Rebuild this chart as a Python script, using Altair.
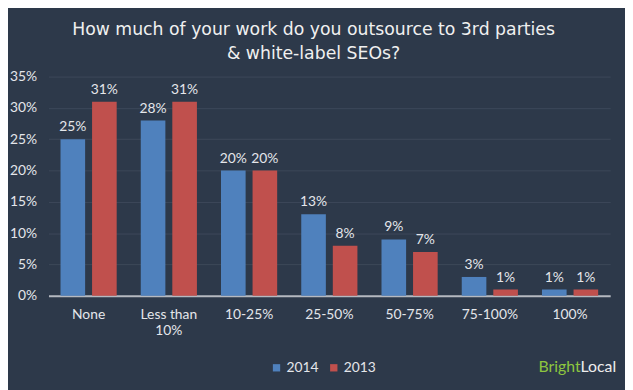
import altair as alt
import pandas as pd

categories = ["None", "Less than 10%", "10-25%", "25-50%", "50-75%", "75-100%", "100%"]
series = ["2014", "2013"]
values_2014 = [25, 28, 20, 13, 9, 3, 1]
values_2013 = [31, 31, 20, 8, 7, 1, 1]
colors = ["#4f81bd", "#c0504d"]

rows = []
for c, a, b in zip(categories, values_2014, values_2013):
    rows.append({"cat": c, "year": "2014", "v": a / 100})
    rows.append({"cat": c, "year": "2013", "v": b / 100})
df = pd.DataFrame(rows)

FONT = "Lato"
TXT = "#e4e6ea"
BG = "#2d394a"

x_axis = alt.Axis(labelAngle=0, labelColor=TXT, labelFontSize=14, labelFont=FONT,
                  labelPadding=19, ticks=False, domainColor="#b5b9c0", domainWidth=2,
                  labelLineHeight=16, labelBaseline="middle",
                  labelExpr="datum.label == 'Less than 10%' ? ['Less than', '10%'] : datum.label")
y_axis = alt.Axis(format=".0%", values=[0, 0.05, 0.1, 0.15, 0.2, 0.25, 0.3, 0.35],
                  labelOverlap=False,
                  labelColor=TXT, labelFontSize=14, labelFont=FONT, labelPadding=12,
                  ticks=False, domain=False, gridColor="#3d4859", gridWidth=1)
xsc = alt.Scale(paddingInner=0.3, paddingOuter=0.15)
ysc = alt.Scale(domain=[0, 0.35], nice=False)
xo = alt.XOffset("year:N", sort=series, scale=alt.Scale(paddingInner=0.22, paddingOuter=0))
xenc = alt.X("cat:N", sort=categories, title=None, scale=xsc, axis=x_axis)
yenc = alt.Y("v:Q", title=None, scale=ysc, axis=y_axis)

bars = alt.Chart(df).mark_bar().encode(
    x=xenc, xOffset=xo, y=yenc,
    color=alt.Color("year:N", sort=series, scale=alt.Scale(domain=series, range=colors),
                    legend=alt.Legend(title=None, orient="none", legendX=224, legendY=288,
                                      direction="horizontal", symbolType="square",
                                      symbolSize=55, symbolStrokeWidth=0,
                                      labelColor=TXT, labelFontSize=14, labelFont=FONT,
                                      columnPadding=8, labelOffset=3)),
)

labels = alt.Chart(df).mark_text(dy=-12, fontSize=14, font=FONT, color=TXT).encode(
    x=xenc, xOffset=xo, y=yenc,
    text=alt.Text("v:Q", format=".0%"),
)

logo1 = alt.Chart(pd.DataFrame({"t": ["Bright"]})).mark_text(
    align="right", baseline="middle", fontSize=16, font=FONT, color="#8dc63f").encode(
    x=alt.value(539), y=alt.value(294), text="t:N")
logo2 = alt.Chart(pd.DataFrame({"t": ["Local"]})).mark_text(
    align="left", baseline="middle", fontSize=16, font=FONT, color="#eeeeee").encode(
    x=alt.value(539), y=alt.value(294), text="t:N")

chart = alt.layer(bars, labels, logo1, logo2).properties(
    width=569, height=222,
    autosize=alt.AutoSizeParams(type="none"),
    padding={"left": 41, "top": 67, "right": 15, "bottom": 93},
    background=BG,
    title=alt.Title(["How much of your work do you outsource to 3rd parties", "& white-label SEOs?"],
                    anchor="middle", color="#f0f0f0", fontSize=17.5, font="DejaVu Sans",
                    fontWeight="normal", lineHeight=25, offset=7, dx=-16),
).configure_view(stroke=None)

chart.save("out.html", embed_options={"renderer": "svg", "actions": False})
